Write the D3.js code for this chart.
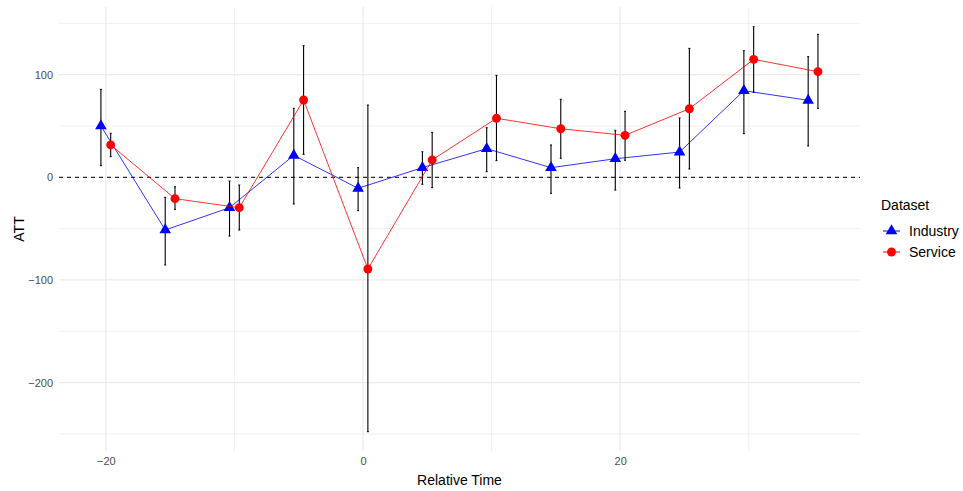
<!DOCTYPE html>
<html>
<head>
  <meta charset="utf-8">
  <title>ATT by relative time</title>
  <script src="https://cdn.jsdelivr.net/npm/d3@7"></script>
  <style>
    body { margin: 0; background: #fff; }
    text { font-family: "Liberation Sans", Arial, sans-serif; }
  </style>
</head>
<body>
  <div id="chart"></div>

  <script>
    // relative time periods
    const times = [-20, -15, -10, -5, 0, 5, 10, 15, 20, 25, 30, 35]

    // Industry series
    const industryAtt = [50, -51.3, -29.6, 21.4, -10.7, 9.4, 27.9, 9.4, 18.1, 24.6, 84.4, 75]
    const industryLo  = [11.3, -85.4, -57.2, -26, -32.5, -6.8, 5.5, -15.6, -12.4, -10.4, 42.5, 30.5]
    const industryHi  = [85.7, -19.5, -3.6, 67.2, 9.4, 24.9, 48.3, 31.5, 45.8, 57.8, 123.3, 117.5]

    // Service series
    const serviceAtt = [31.5, -20.8, -29.6, 75.3, -89.3, 16.9, 57.5, 47.3, 40.9, 66.8, 114.9, 102.9]
    const serviceLo  = [20.1, -31.2, -51.3, 22.4, -247.8, -10.1, 16.2, 18.5, 16.6, 8.1, 82.8, 67.2]
    const serviceHi  = [42.9, -9.2, -7.5, 128.2, 70.4, 43.8, 99.3, 76, 64.3, 125.6, 146.7, 139.3]

    const xTicks = [-20, 0, 20]
    const yTicks = [-200, -100, 0, 100]

    const width = 963
    const height = 491
    const panel = { left: 59, right: 860, top: 7, bottom: 451 }

    const svg = d3.select("#chart")
      .append("svg")
      .attr("width", width)
      .attr("height", height)

    const x = d3.scaleLinear().domain([-23.64, 38.65]).range([panel.left, panel.right])
    const y = d3.scaleLinear().domain([-266.6, 165.9]).range([panel.bottom, panel.top])

    // gridlines (minor first, then major)
    const grid = svg.append("g")
    const xMinor = [-10, 10, 30]
    const yMinor = [-250, -150, -50, 50, 150]
    grid.selectAll(".xmin").data(xMinor).enter().append("line")
      .attr("x1", d => x(d)).attr("x2", d => x(d))
      .attr("y1", panel.top).attr("y2", panel.bottom)
      .style("stroke", "#f0f0f0").style("stroke-width", 1)
    grid.selectAll(".ymin").data(yMinor).enter().append("line")
      .attr("y1", d => y(d)).attr("y2", d => y(d))
      .attr("x1", panel.left).attr("x2", panel.right)
      .style("stroke", "#f0f0f0").style("stroke-width", 1)
    grid.selectAll(".xmaj").data(xTicks).enter().append("line")
      .attr("x1", d => x(d)).attr("x2", d => x(d))
      .attr("y1", panel.top).attr("y2", panel.bottom)
      .style("stroke", "#ebebeb").style("stroke-width", 1.2)
    grid.selectAll(".ymaj").data(yTicks).enter().append("line")
      .attr("y1", d => y(d)).attr("y2", d => y(d))
      .attr("x1", panel.left).attr("x2", panel.right)
      .style("stroke", "#ebebeb").style("stroke-width", 1.2)

    // axes (labels only, like theme_minimal)
    const xAxis = svg.append("g")
      .attr("transform", `translate(0,${panel.bottom + 4})`)
      .call(d3.axisBottom(x).tickValues(xTicks).tickSize(0).tickPadding(2))
    const yAxis = svg.append("g")
      .attr("transform", `translate(${panel.left - 4},0)`)
      .call(d3.axisLeft(y).tickValues(yTicks).tickSize(0).tickPadding(2))
    ;[xAxis, yAxis].forEach(a => {
      a.select(".domain").remove()
      a.selectAll("text").style("fill", "#4d4d4d").style("font-size", "11px")
        .style("font-family", "'Liberation Sans', Arial, sans-serif")
    })

    svg.append("text")
      .attr("x", (panel.left + panel.right) / 2)
      .attr("y", 485)
      .attr("text-anchor", "middle")
      .style("font-size", "14px")
      .text("Relative Time")
    svg.append("text")
      .attr("transform", `translate(24,${(panel.top + panel.bottom) / 2}) rotate(-90)`)
      .attr("text-anchor", "middle")
      .style("font-size", "14px")
      .text("ATT")

    // zero reference line
    svg.append("line")
      .attr("x1", panel.left).attr("x2", panel.right)
      .attr("y1", y(0)).attr("y2", y(0))
      .style("stroke", "#000").style("stroke-width", 1)
      .style("stroke-dasharray", "4,4")

    const series = [
      { name: "Industry", color: "#0000ff", shape: d3.symbolTriangle, size: 58, dodge: -0.38,
        data: times.map((t, i) => ({ t: t, v: industryAtt[i], lo: industryLo[i], hi: industryHi[i] })) },
      { name: "Service", color: "#ff0000", shape: d3.symbolCircle, size: 62, dodge: 0.38,
        data: times.map((t, i) => ({ t: t, v: serviceAtt[i], lo: serviceLo[i], hi: serviceHi[i] })) }
    ]

    const line = d3.line()

    series.forEach(s => {
      const g = svg.append("g")
      const px = d => x(d.t + s.dodge)

      g.append("path")
        .datum(s.data)
        .attr("d", line.x(px).y(d => y(d.v)))
        .style("fill", "none")
        .style("stroke", s.color)
        .style("stroke-width", 1)
        .style("stroke-opacity", 0.8)

      // error bars
      const eb = g.selectAll(".eb").data(s.data).enter().append("g")
      eb.append("line")
        .attr("x1", px).attr("x2", px)
        .attr("y1", d => y(d.lo)).attr("y2", d => y(d.hi))
        .style("stroke", "#000").style("stroke-width", 1.1)
      eb.append("line")
        .attr("x1", d => px(d) - 1).attr("x2", d => px(d) + 1)
        .attr("y1", d => y(d.lo)).attr("y2", d => y(d.lo))
        .style("stroke", "#000").style("stroke-width", 1)
      eb.append("line")
        .attr("x1", d => px(d) - 1).attr("x2", d => px(d) + 1)
        .attr("y1", d => y(d.hi)).attr("y2", d => y(d.hi))
        .style("stroke", "#000").style("stroke-width", 1)

      g.selectAll(".pt").data(s.data).enter().append("path")
        .attr("transform", d => `translate(${px(d)},${y(d.v)})`)
        .attr("d", d3.symbol().type(s.shape).size(s.size))
        .style("fill", s.color)
    })

    // legend
    const legend = svg.append("g").attr("transform", "translate(881,0)")
    legend.append("text")
      .attr("x", 0).attr("y", 210)
      .style("font-size", "14px")
      .text("Dataset")
    series.forEach((s, i) => {
      const cy = 231 + i * 21
      legend.append("line")
        .attr("x1", 2).attr("x2", 19)
        .attr("y1", cy).attr("y2", cy)
        .style("stroke", s.color).style("stroke-width", 1)
      legend.append("path")
        .attr("transform", `translate(10.5,${cy})`)
        .attr("d", d3.symbol().type(s.shape).size(s.size))
        .style("fill", s.color)
      legend.append("text")
        .attr("x", 28).attr("y", cy + 5)
        .style("font-size", "14px")
        .text(s.name)
    })
  </script>
</body>
</html>
